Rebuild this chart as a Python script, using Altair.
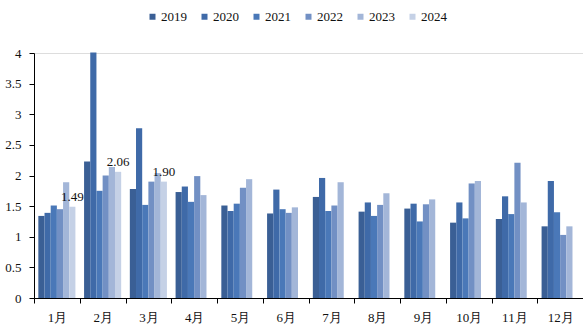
import altair as alt
import pandas as pd

months = ["1月", "2月", "3月", "4月", "5月", "6月", "7月", "8月", "9月", "10月", "11月", "12月"]
years = ["2019", "2020", "2021", "2022", "2023", "2024"]
v2019 = [1.34, 2.23, 1.78, 1.73, 1.51, 1.38, 1.65, 1.41, 1.46, 1.23, 1.29, 1.17]
v2020 = [1.39, 4.01, 2.77, 1.82, 1.42, 1.77, 1.96, 1.56, 1.54, 1.56, 1.66, 1.91]
v2021 = [1.51, 1.75, 1.52, 1.57, 1.54, 1.45, 1.42, 1.34, 1.25, 1.30, 1.37, 1.40]
v2022 = [1.45, 2.00, 1.90, 1.99, 1.80, 1.39, 1.51, 1.52, 1.53, 1.87, 2.21, 1.03]
v2023 = [1.89, 2.14, 2.04, 1.68, 1.94, 1.48, 1.89, 1.71, 1.61, 1.91, 1.56, 1.17]
v2024 = [1.49, 2.06, 1.90]
y_ticks = [0, 0.5, 1, 1.5, 2, 2.5, 3, 3.5, 4]
colors = ["#3a5f95", "#3f6aa8", "#4a78b8", "#7290c4", "#a3b6d8", "#c5d1e6"]

series = [v2019, v2020, v2021, v2022, v2023, v2024]
rows = []
for y, vals in zip(years, series):
    for m, v in zip(months, vals):
        rows.append({"month": m, "year": y, "value": v, "text": f"{v:.2f}"})
df = pd.DataFrame(rows)

serif = "Liberation Serif"

base = alt.Chart(df).encode(
    x=alt.X("month:N", sort=months,
            scale=alt.Scale(paddingInner=0, paddingOuter=0),
            axis=alt.Axis(title=None, tickBand="extent", labelAngle=0,
                          labelFont=serif, labelFontSize=13, labelColor="#111",
                          labelPadding=8, tickSize=5, domainColor="#000",
                          tickColor="#000")),
    xOffset=alt.XOffset("year:N", sort=years,
                        scale=alt.Scale(domain=years, paddingInner=0, paddingOuter=0.7)),
    y=alt.Y("value:Q",
            scale=alt.Scale(domain=[0, 4], nice=False),
            axis=alt.Axis(title=None, values=y_ticks, labelOverlap=False,
                          format="~g", grid=False,
                          labelFont=serif, labelFontSize=13, labelColor="#111",
                          labelPadding=8, tickSize=5, domainColor="#000",
                          tickColor="#000")),
)

bars = base.mark_bar().encode(
    color=alt.Color("year:N", sort=years,
                    scale=alt.Scale(domain=years, range=colors),
                    legend=alt.Legend(orient="none", legendX=112, legendY=-43,
                                      direction="horizontal", title=None,
                                      symbolType="square", symbolSize=36,
                                      symbolStrokeWidth=0, labelFont=serif,
                                      labelFontSize=13, labelColor="#111",
                                      columnPadding=11, labelOffset=2,
                                      padding=0)),
)

text = base.transform_filter(alt.datum.year == "2024").mark_text(
    baseline="bottom", dy=-3, font=serif, fontSize=13, color="#111"
).encode(text="text:N")

chart = (bars + text).properties(
    width=549, height=245,
    autosize=alt.AutoSizeParams(type="none"),
    padding={"left": 34, "top": 53, "right": 0, "bottom": 30},
).configure_view(stroke=None).configure(background="white")

chart.save("out.html", embed_options={"renderer": "svg", "actions": False})
